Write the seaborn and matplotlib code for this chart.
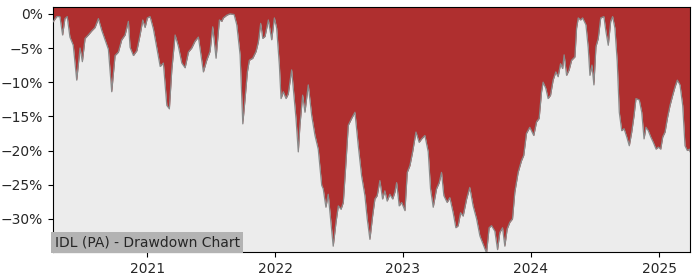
import numpy as np
import pandas as pd
import matplotlib
matplotlib.use("Agg")
import matplotlib.pyplot as plt
import matplotlib.dates as mdates
import matplotlib.ticker as mticker
import seaborn as sns

# Time as decimal years, drawdown in percent
years = [
    2020.266, 2020.273, 2020.295, 2020.320, 2020.341, 2020.359, 2020.377, 2020.398, 2020.424, 2020.451,
    2020.477, 2020.495, 2020.516, 2020.541, 2020.568, 2020.594, 2020.620, 2020.646, 2020.672,
    2020.698, 2020.724, 2020.750, 2020.776, 2020.802, 2020.828, 2020.854, 2020.867, 2020.893,
    2020.920, 2020.945, 2020.966, 2020.984, 2021.002, 2021.023, 2021.049, 2021.076, 2021.102,
    2021.127, 2021.154, 2021.174, 2021.193, 2021.219, 2021.245, 2021.271, 2021.297, 2021.323,
    2021.349, 2021.375, 2021.401, 2021.420, 2021.440, 2021.466, 2021.492, 2021.513, 2021.539,
    2021.565, 2021.584, 2021.596, 2021.623, 2021.648, 2021.680, 2021.701, 2021.727, 2021.748,
    2021.766, 2021.784, 2021.799, 2021.826, 2021.852, 2021.870, 2021.888, 2021.904, 2021.922,
    2021.948, 2021.974, 2021.995, 2022.013, 2022.034, 2022.047, 2022.065, 2022.086, 2022.104,
    2022.130, 2022.148, 2022.164, 2022.182, 2022.195, 2022.216, 2022.234, 2022.260, 2022.287,
    2022.3125, 2022.338, 2022.365, 2022.377, 2022.398, 2022.416, 2022.4375, 2022.455, 2022.477,
    2022.495, 2022.516, 2022.534, 2022.555, 2022.573, 2022.599, 2022.625, 2022.651, 2022.677,
    2022.703, 2022.721, 2022.742, 2022.763, 2022.781, 2022.799, 2022.820, 2022.841, 2022.859,
    2022.877, 2022.898, 2022.920, 2022.9375, 2022.951, 2022.971, 2022.990, 2023.016, 2023.034,
    2023.055, 2023.076, 2023.102, 2023.127, 2023.146, 2023.172, 2023.198, 2023.216, 2023.237,
    2023.263, 2023.284, 2023.302, 2023.320, 2023.346, 2023.367, 2023.393, 2023.414, 2023.432,
    2023.451, 2023.471, 2023.498, 2023.523, 2023.549, 2023.576, 2023.602, 2023.627, 2023.654,
    2023.674, 2023.693, 2023.719, 2023.740, 2023.758, 2023.779, 2023.797, 2023.815, 2023.836,
    2023.857, 2023.875, 2023.901, 2023.927, 2023.945, 2023.966, 2023.992, 2024.023, 2024.045,
    2024.065, 2024.084, 2024.096, 2024.117, 2024.135, 2024.154, 2024.174, 2024.195, 2024.213,
    2024.232, 2024.248, 2024.260, 2024.279, 2024.299, 2024.318, 2024.344, 2024.357, 2024.370,
    2024.388, 2024.404, 2024.430, 2024.448, 2024.461, 2024.477, 2024.492, 2024.508, 2024.526,
    2024.545, 2024.570, 2024.586, 2024.604, 2024.623, 2024.638, 2024.656, 2024.674, 2024.690,
    2024.709, 2024.727, 2024.748, 2024.768, 2024.787, 2024.805, 2024.820, 2024.846, 2024.865,
    2024.883, 2024.898, 2024.916, 2024.935, 2024.955, 2024.977, 2024.995, 2025.013, 2025.029,
    2025.047, 2025.065, 2025.086, 2025.107, 2025.125, 2025.143, 2025.164, 2025.185, 2025.203,
    2025.221, 2025.237, 2025.242,
]
drawdown = [
    -1.2, -1.0, -0.4, -0.4, -3.1, -0.7, -0.4, -3.4, -4.6, -9.7,
    -5.0, -7.0, -3.6, -3.1, -2.5, -2.0, -0.7, -2.4, -3.8,
    -5.2, -11.4, -6.1, -5.6, -3.8, -3.1, -1.1, -4.9, -6.1,
    -5.4, -3.1, -0.9, -2.0, -0.6, -0.4, -2.2, -5.0, -7.7,
    -7.2, -13.4, -13.9, -8.2, -3.1, -4.8, -7.2, -7.9, -5.6,
    -5.0, -4.0, -3.4, -5.9, -8.5, -6.8, -5.5, -1.9, -6.5,
    -0.9, -1.1, -0.6, -0.2, 0.0, -0.1, -1.6, -6.0, -16.1,
    -12.4, -8.5, -6.8, -6.5, -5.5, -4.1, -1.4, -3.6, -3.3,
    -0.9, -3.8, -0.6, -2.1, -7.5, -12.4, -11.4, -12.4, -11.7,
    -8.2, -11.9, -15.3, -20.2, -16.3, -11.9, -14.4, -10.4, -14.9,
    -17.8, -19.8, -25.1, -25.6, -28.3, -26.4, -30.5, -34.0, -30.5,
    -28.1, -28.6, -27.6, -21.7, -16.3, -15.3, -14.4, -19.3, -23.7,
    -26.6, -30.0, -33.0, -29.6, -27.1, -26.6, -24.4, -27.1, -25.9,
    -27.4, -26.4, -27.1, -26.1, -24.7, -28.1, -27.6, -28.8, -23.2,
    -22.2, -20.2, -17.3, -18.8, -18.3, -17.8, -20.2, -25.6, -28.3,
    -25.6, -24.7, -23.2, -26.6, -27.6, -26.9, -29.1, -31.3, -31.0,
    -29.1, -29.6, -27.1, -25.4, -28.1, -30.0, -32.5, -33.7, -35.0,
    -31.3, -31.0, -31.8, -34.5, -32.0, -31.3, -34.0, -31.5, -30.5,
    -30.0, -26.1, -23.2, -21.5, -20.7, -17.5, -16.6, -17.8, -15.8,
    -15.3, -11.4, -10.0, -10.9, -12.4, -11.9, -9.7, -8.5, -9.2,
    -7.3, -8.0, -6.0, -9.0, -8.2, -6.8, -6.3, -2.1, -0.6,
    -0.9, -0.6, -1.6, -5.0, -9.0, -7.5, -10.4, -4.8, -3.6,
    -0.6, -0.4, -2.6, -4.6, -1.1, -0.4, -2.1, -7.0, -14.4,
    -17.1, -16.8, -18.0, -19.3, -17.3, -14.9, -12.4, -12.6, -14.4,
    -18.3, -16.6, -17.1, -18.0, -18.8, -19.8, -19.5, -19.8, -18.0,
    -17.3, -15.3, -13.4, -11.9, -10.7, -9.7, -10.4, -13.4, -19.3,
    -20.0, -19.8, -20.2,
]
title_text = "IDL (PA) - Drawdown Chart"

Y_TOP, Y_BOTTOM = 1.0, -34.85


def to_date(y):
    yr = int(np.floor(y))
    start = pd.Timestamp(year=yr, month=1, day=1)
    end = pd.Timestamp(year=yr + 1, month=1, day=1)
    return start + (end - start) * (y - yr)


df = pd.DataFrame({"date": [to_date(y) for y in years], "dd": drawdown})

sns.set_style("white", {"axes.facecolor": "#ececec", "axes.edgecolor": "black"})
plt.rcParams["font.family"] = ["DejaVu Sans"]

fig = plt.figure(figsize=(7, 2.8), dpi=100)
ax = fig.add_axes([0.0757, 0.1, 0.91, 0.875])

ax.fill_between(df["date"], df["dd"], Y_TOP, color="#af2f2f", linewidth=0, zorder=2)
sns.lineplot(data=df, x="date", y="dd", ax=ax, color="#8a8a8a", linewidth=0.9, zorder=3)

ax.set_xlim(df["date"].min(), df["date"].max())
ax.set_ylim(Y_BOTTOM, Y_TOP)
ax.yaxis.set_major_locator(mticker.MultipleLocator(5))
ax.yaxis.set_major_formatter(mticker.PercentFormatter(decimals=0))
ax.xaxis.set_major_locator(mdates.YearLocator())
ax.xaxis.set_major_formatter(mdates.DateFormatter("%Y"))
ax.set_xlabel("")
ax.set_ylabel("")
ax.tick_params(axis="both", which="both", length=3.5, width=0.8, labelsize=10,
               bottom=True, left=True, color="black")
for s in ax.spines.values():
    s.set_color("black")
    s.set_linewidth(0.8)

ax.text(0.003, 0.012, title_text, transform=ax.transAxes, fontsize=10,
        ha="left", va="bottom", zorder=5,
        bbox=dict(facecolor="#b3b3b3", edgecolor="none", pad=2.5))

fig.savefig("out.png", dpi=100)
